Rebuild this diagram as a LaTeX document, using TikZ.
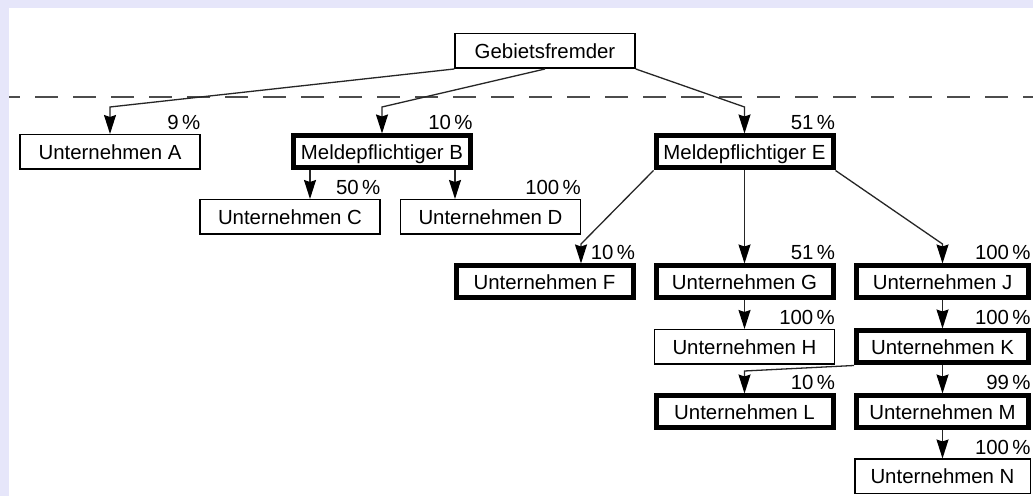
\documentclass[tikz,border=0pt]{standalone}
\usepackage{fontspec}
\setmainfont{Liberation Sans}
\usetikzlibrary{arrows.meta, positioning, calc}
\definecolor{bandcol}{HTML}{E6E6FA}

\begin{document}
\begin{tikzpicture}[x=0.5pt, y=0.5pt,
	box/.style={draw, line width=0.75pt, minimum width=90pt, minimum height=17.25pt, inner sep=0pt,
		text height=7.3pt, text depth=0pt, font=\fontsize{10.2}{12}\selectfont},
	mbox/.style={box, line width=2.5pt, minimum width=88.5pt, minimum height=16pt},
	pct/.style={anchor=base east, inner sep=0pt, font=\fontsize{10.2}{12}\selectfont},
	arr/.style={line width=0.65pt, black!85, -{Stealth[length=9.5pt, width=6pt, inset=1pt, black]}}]
				% Frame: lavender band on top and left
				\fill[bandcol] (0,0) rectangle (1033,496);
				\fill[white] (9,0) rectangle (1033,488);
				\useasboundingbox (0,0) rectangle (1033,496);

				% Border line
				\draw[black!70, line width=0.75pt, dash pattern=on 11.5pt off 7.5pt, dash phase=6pt] (9,399) -- (1033,399);

				% Boxes
				\node[box] (frem) at (545,445) {Gebietsfremder};
				\node[box] (A) at (110,344) {Unternehmen A};
				\node[mbox] (B) at (382,344) {Meldepflichtiger B};
				\node[mbox] (E) at (744.5,344) {Meldepflichtiger E};
				\node[box] (C) at (290,279) {Unternehmen C};
				\node[box] (D) at (490.5,279) {Unternehmen D};
				\node[mbox] (F) at (544.5,214) {Unternehmen F};
				\node[mbox] (G) at (744.5,214) {Unternehmen G};
				\node[mbox, minimum width=86pt] (J) at (942.5,214) {Unternehmen J};
				\node[box] (H) at (744.5,149) {Unternehmen H};
				\node[mbox, minimum width=86pt] (K) at (942.5,149) {Unternehmen K};
				\node[mbox] (L) at (744.5,84) {Unternehmen L};
				\node[mbox, minimum width=86pt] (M) at (942.5,84) {Unternehmen M};
				\node[box, minimum width=87.75pt] (N) at (942.5,19.5) {Unternehmen N};

				% Holdings from abroad
				\draw[arr] (frem.south west) -- (110,389) -- (A.north);
				\draw[arr] (frem.south) -- (382,389) -- (B.north);
				\draw[arr] (frem.south east) -- (744.5,389) -- (E.north);

				% Holdings of B and E
				\draw[arr] (310,0 |- B.south) -- (310,0 |- C.north);
				\draw[arr] (455,0 |- B.south) -- (455,0 |- D.north);
				\draw[arr] (E.south west) -- (581,252) -- (581,0 |- F.north);
				\draw[arr] (E.south) -- (G.north);
				\draw[arr] (E.south east) -- (942.5,252) -- (J.north);

				% Further chain
				\draw[arr] (G.south) -- (H.north);
				\draw[arr] (J.south) -- (K.north);
				\draw[arr] (K.south west) -- (744.5,125) -- (L.north);
				\draw[arr] (K.south) -- (M.north);
				\draw[arr] (M.south) -- (N.north);

				% Shares
				\foreach \n/\p in {A/9, B/10, C/50, D/100, E/51, F/10, G/51, J/100, H/100, K/100, L/10, M/99, N/100} {
					\node[pct] (p\n) at ($(\n.north east)+(0,4)$) {\p\,\%};
				}
\end{tikzpicture}
\end{document}
